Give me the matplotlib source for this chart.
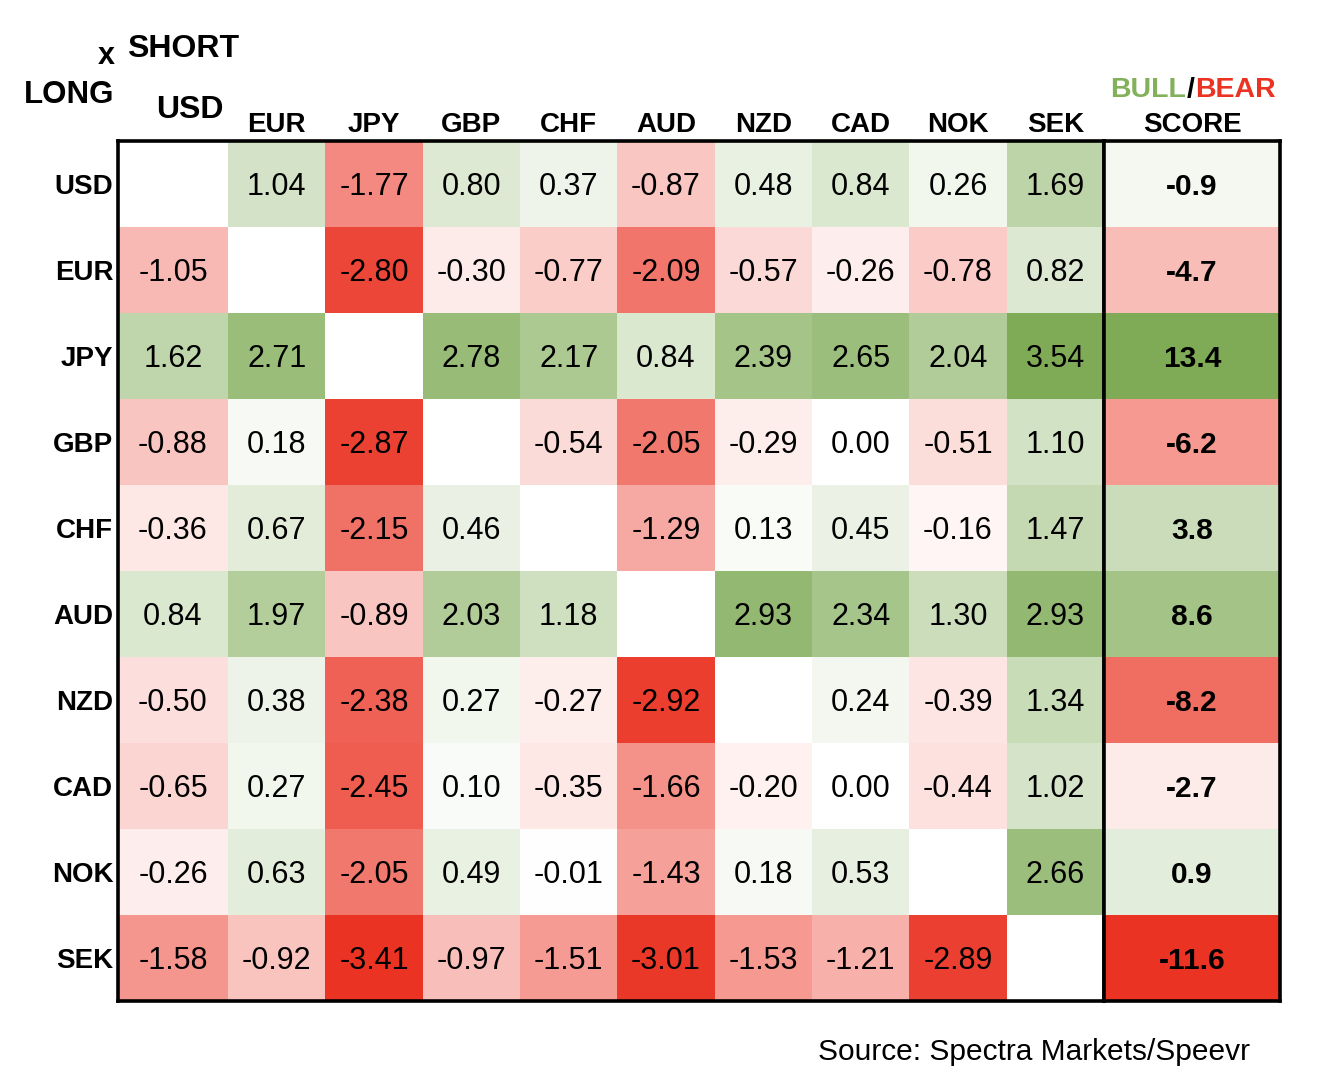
import numpy as np
import matplotlib
matplotlib.use("Agg")
from matplotlib import pyplot as plt
from matplotlib.colors import LinearSegmentedColormap

plt.rcParams['font.family'] = ['Liberation Sans', 'DejaVu Sans']

# currencies: rows = LONG, columns = SHORT
ccy = ['USD', 'EUR', 'JPY', 'GBP', 'CHF', 'AUD', 'NZD', 'CAD', 'NOK', 'SEK']
nan = np.nan
usd = [nan, 1.04, -1.77, 0.80, 0.37, -0.87, 0.48, 0.84, 0.26, 1.69]
eur = [-1.05, nan, -2.80, -0.30, -0.77, -2.09, -0.57, -0.26, -0.78, 0.82]
jpy = [1.62, 2.71, nan, 2.78, 2.17, 0.84, 2.39, 2.65, 2.04, 3.54]
gbp = [-0.88, 0.18, -2.87, nan, -0.54, -2.05, -0.29, 0.00, -0.51, 1.10]
chf = [-0.36, 0.67, -2.15, 0.46, nan, -1.29, 0.13, 0.45, -0.16, 1.47]
aud = [0.84, 1.97, -0.89, 2.03, 1.18, nan, 2.93, 2.34, 1.30, 2.93]
nzd = [-0.50, 0.38, -2.38, 0.27, -0.27, -2.92, nan, 0.24, -0.39, 1.34]
cad = [-0.65, 0.27, -2.45, 0.10, -0.35, -1.66, -0.20, 0.00, -0.44, 1.02]
nok = [-0.26, 0.63, -2.05, 0.49, -0.01, -1.43, 0.18, 0.53, nan, 2.66]
sek = [-1.58, -0.92, -3.41, -0.97, -1.51, -3.01, -1.53, -1.21, -2.89, nan]
score = [-0.9, -4.7, 13.4, -6.2, 3.8, 8.6, -8.2, -2.7, 0.9, -11.6]

M = np.array([usd, eur, jpy, gbp, chf, aud, nzd, cad, nok, sek])
S = np.array(score).reshape(-1, 1)

RED = '#EA3323'
GREEN = '#7FAB56'
cmap = LinearSegmentedColormap.from_list('rwg', [RED, '#FFFFFF', GREEN])
cmap.set_bad('white')


def shade(a):
    """3-colour scale (min / median / max) -> 0..1, a bit punchier than linear"""
    lo, mid, hi = np.nanmin(a), np.nanmedian(a), np.nanmax(a)
    out = np.full(a.shape, np.nan)
    pos = a >= mid
    neg = a < mid
    out[pos] = 0.5 + 0.5 * ((a[pos] - mid) / (hi - mid)) ** 0.9
    out[neg] = 0.5 - 0.5 * np.clip((a[neg] - mid) / (lo - mid) * 1.1, 0, 1)
    return np.ma.masked_invalid(out)


W, H = 1326, 1092
fig = plt.figure(figsize=(W / 100, H / 100), dpi=100)
fig.patch.set_facecolor('white')

top, bot = 141, 1001
left, split, right = 118, 1104, 1280

# first column a bit wider, like the original table
col_w = np.array([1.13] + [1.0] * 9)
xe = np.concatenate([[0], np.cumsum(col_w)])
ye = np.arange(len(ccy) + 1)
xc = (xe[:-1] + xe[1:]) / 2
dy = 0.03

ax = fig.add_axes([left / W, 1 - bot / H, (split - left) / W, (bot - top) / H])
ax.pcolormesh(xe, ye, shade(M), cmap=cmap, vmin=0, vmax=1)
ax.set_xlim(xe[0], xe[-1])
ax.set_ylim(ye[-1], ye[0])
ax.set_xticks([])
ax.set_yticks([])
for sp in ax.spines.values():
    sp.set_linewidth(2.6)
    sp.set_color('black')

for i in range(len(ccy)):
    for j in range(len(ccy)):
        v = M[i, j]
        if not np.isnan(v):
            ax.text(xc[j], i + 0.5 + dy, f'{v:.2f}', ha='center', va='center', fontsize=22)
    # row labels (LONG)
    ax.text(-0.05, i + 0.5 + dy, ccy[i], ha='right', va='center', fontsize=20,
            fontweight='bold', clip_on=False)

# column labels (SHORT); USD header is bigger and raised
for j in range(1, len(ccy)):
    ax.text(xc[j], -0.19, ccy[j], ha='center', va='center', fontsize=20,
            fontweight='bold', clip_on=False)

ax2 = fig.add_axes([split / W, 1 - bot / H, (right - split) / W, (bot - top) / H])
ax2.pcolormesh([0, 1], ye, shade(S), cmap=cmap, vmin=0, vmax=1)
ax2.set_xlim(0, 1)
ax2.set_ylim(ye[-1], ye[0])
ax2.set_xticks([])
ax2.set_yticks([])
for sp in ax2.spines.values():
    sp.set_linewidth(2.6)
    sp.set_color('black')
for i, v in enumerate(score):
    ax2.text(0.5, i + 0.5 + dy, f'{v:.1f}', ha='center', va='center', fontsize=21.5,
             fontweight='bold')
ax2.text(0.5, -0.19, 'SCORE', ha='center', va='center', fontsize=20,
         fontweight='bold', clip_on=False)

# header texts in the top-left corner
fig.text(190 / W, 1 - 110 / H, 'USD', ha='center', va='center', fontsize=23, fontweight='bold')
fig.text(69 / W, 1 - 95 / H, 'LONG', ha='center', va='center', fontsize=22.5, fontweight='bold')
fig.text(127 / W, 1 - 49 / H, 'SHORT', ha='left', va='center', fontsize=23, fontweight='bold')
fig.text(115 / W, 1 - 64 / H, 'x', ha='right', va='baseline', fontsize=22, fontweight='bold')

# BULL/BEAR title
fig.text(1186 / W, 1 - 90 / H, 'BULL', ha='right', va='center', fontsize=20.5,
         fontweight='bold', color='#82B05B')
fig.text(1190.5 / W, 1 - 90 / H, '/', ha='center', va='center', fontsize=20.5,
         fontweight='bold', color='black')
fig.text(1195 / W, 1 - 90 / H, 'BEAR', ha='left', va='center', fontsize=20.5,
         fontweight='bold', color=RED)

fig.text(1250 / W, 1 - 1052 / H, 'Source: Spectra Markets/Speevr', ha='right',
         va='center', fontsize=21.5)

fig.savefig('out.png', dpi=100, facecolor='white')
